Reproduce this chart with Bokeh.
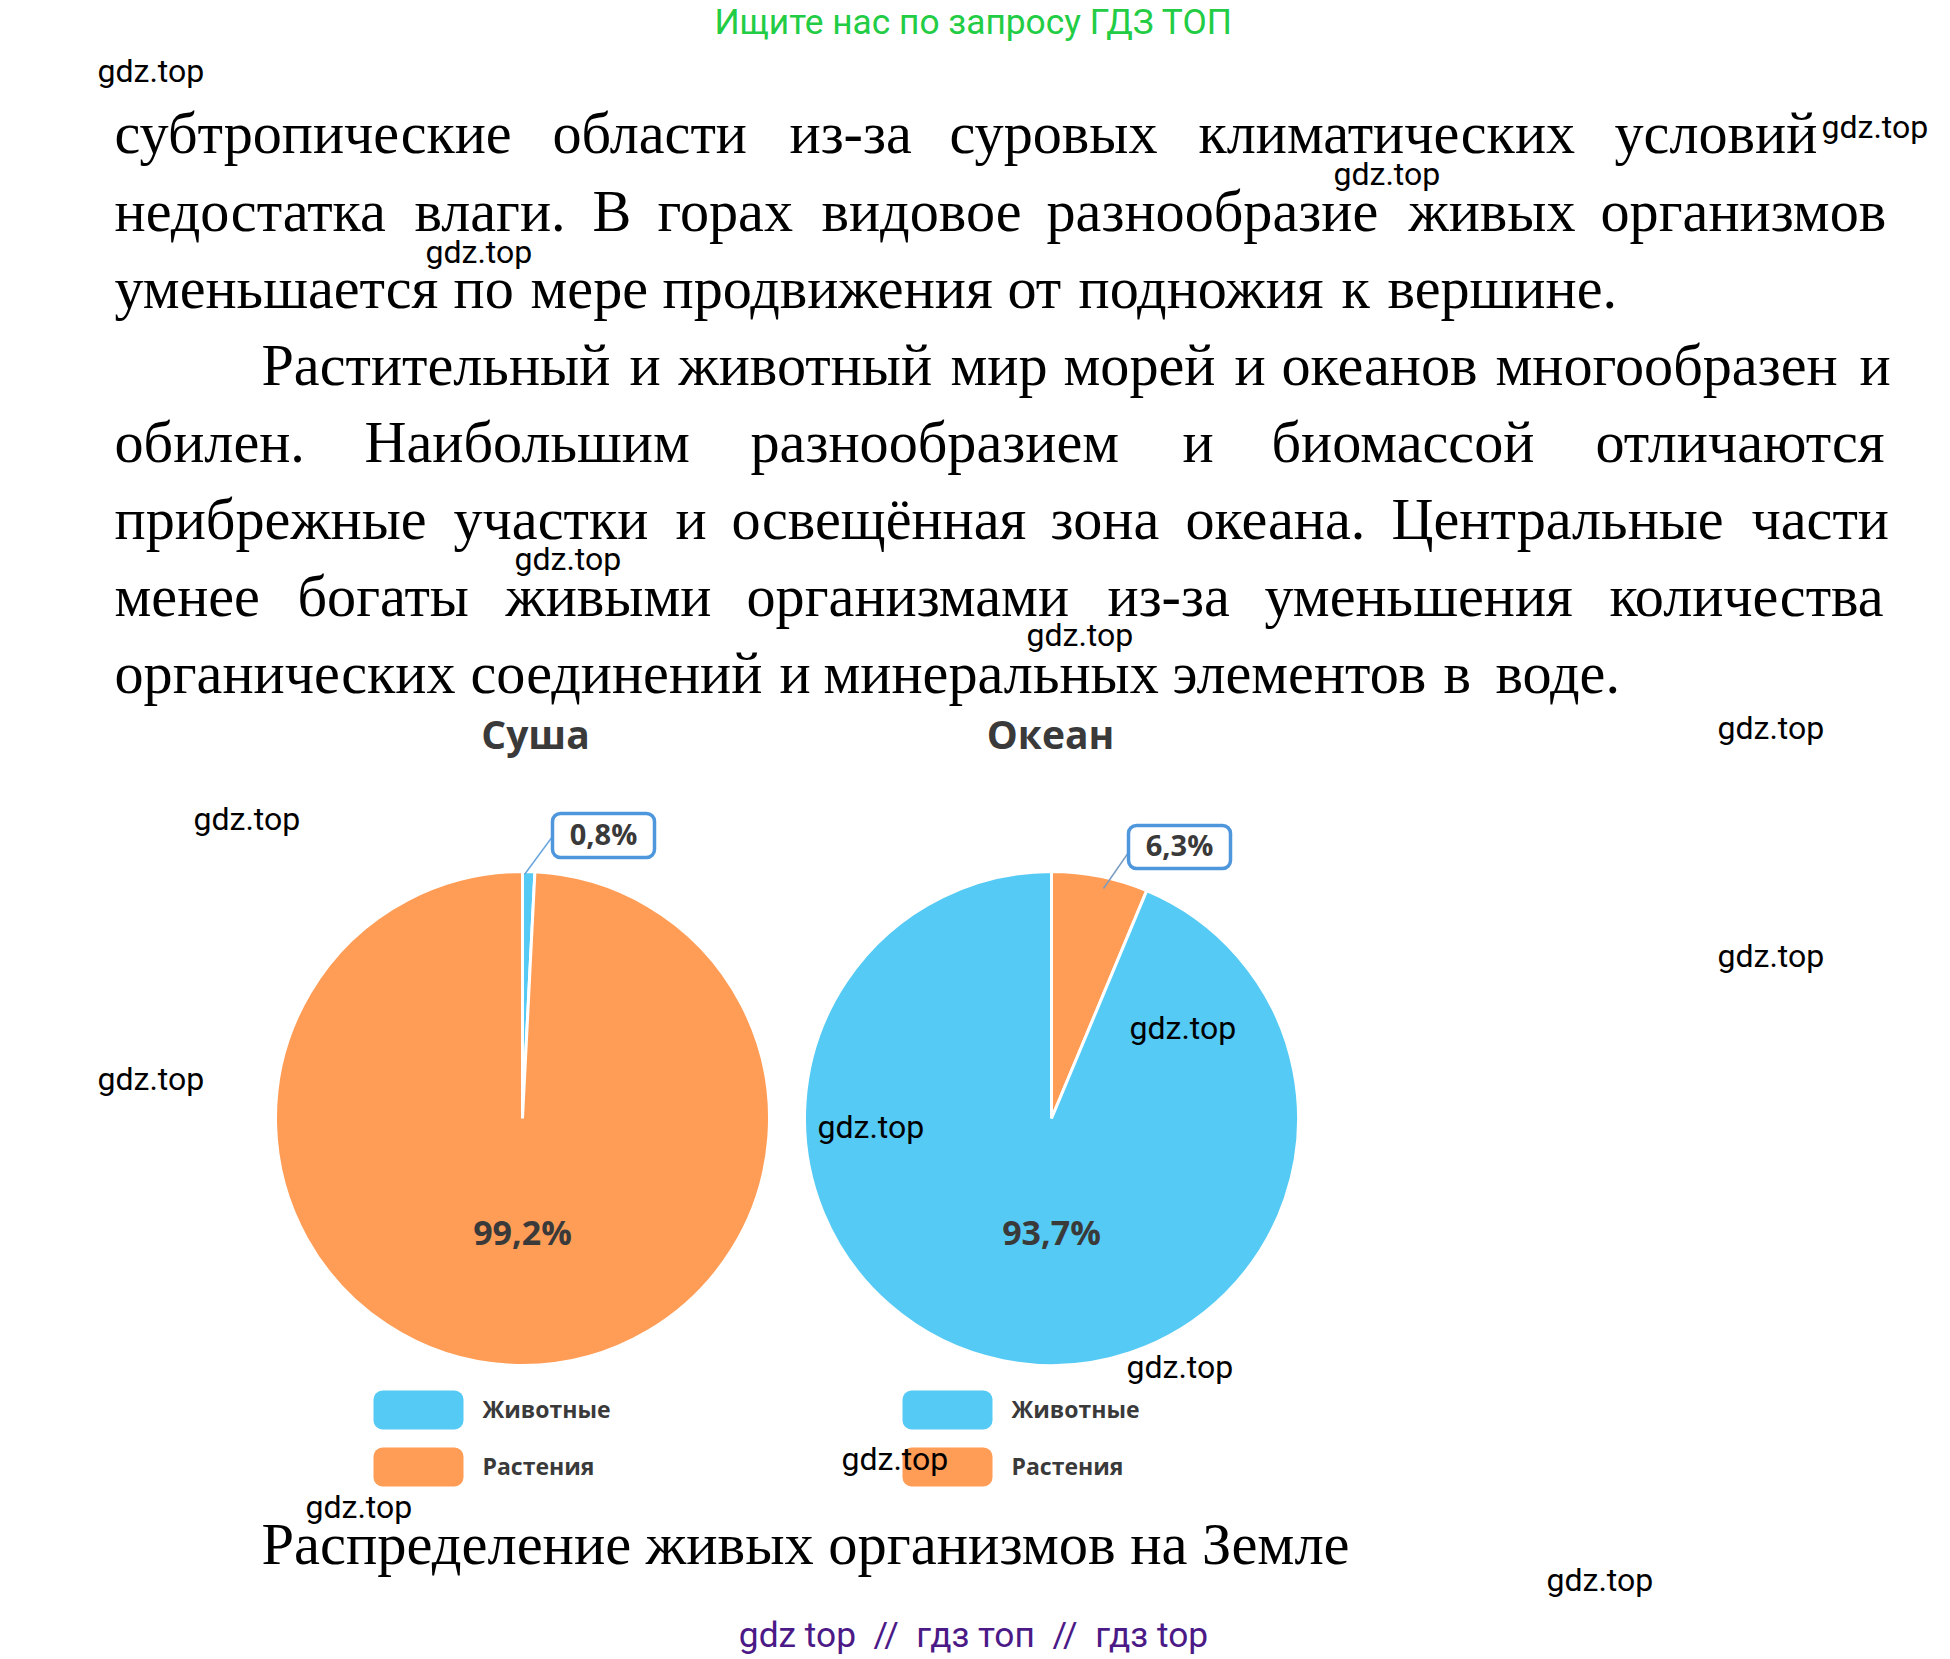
from bokeh.core.properties import value
from bokeh.embed import file_html
from bokeh.models import ColumnDataSource, Range1d
from bokeh.plotting import figure
from bokeh.resources import INLINE
import math

# pie data
land_labels = ['Животные', 'Растения']
land_values = [0.8, 99.2]
ocean_values = [6.3, 93.7]
land_texts = ['0,8%', '99,2%']
ocean_texts = ['6,3%', '93,7%']
titles = ['Суша', 'Океан']
caption = 'Распределение живых организмов на Земле'
header = 'Ищите нас по запросу ГДЗ ТОП'
footer = 'gdz top\u00a0\u00a0//\u00a0\u00a0гдз топ\u00a0\u00a0//\u00a0\u00a0гдз top'

body_lines = [
    'субтропические области из-за суровых климатических условий',
    'недостатка влаги. В горах видовое разнообразие живых организмов',
    'уменьшается по мере продвижения от подножия к вершине.',
    'Растительный и животный мир морей и океанов многообразен и',
    'обилен. Наибольшим разнообразием и биомассой отличаются',
    'прибрежные участки и освещённая зона океана. Центральные части',
    'менее богаты живыми организмами из-за уменьшения количества',
    'органических соединений и минеральных элементов в воде.',
]

BLUE = '#55caf4'
ORANGE = '#ff9c55'
DARK = '#3a3a3a'
EDGE = '#4f97dc'

# word starts, justified like the page
word_x = [
    [114, 552, 789, 949, 1198, 1614],
    [114, 414, 592, 657, 821, 1046, 1408, 1600],
    [114, 453, 530, 662, 1007, 1078, 1341, 1387],
    [261, 629, 678, 950, 1063, 1234, 1281, 1495, 1859],
    [114, 364, 750, 1182, 1271, 1595],
    [114, 453, 675, 731, 1050, 1185, 1391, 1751],
    [114, 297, 505, 746, 1107, 1264, 1609],
    [114, 470, 779, 823, 1172, 1443, 1495],
]
line_y = [133, 211, 288, 365, 442, 519, 596, 673]

marks = [(97, 70), (1821, 126), (1333, 173), (425, 251), (514, 558), (1026, 634),
         (1717, 727), (193, 818), (1717, 955), (97, 1078), (1129, 1027), (817, 1126),
         (1126, 1366), (841, 1458), (305, 1506), (1546, 1579)]

PAGE_W = 1950
PAGE_H = 1659


def py(y):
    return PAGE_H - y


p = figure(width=PAGE_W, height=PAGE_H, output_backend="svg", toolbar_location=None,
           x_range=Range1d(0, PAGE_W), y_range=Range1d(0, PAGE_H), min_border=0)
p.axis.visible = False
p.grid.visible = False
p.outline_line_color = None
p.background_fill_color = 'white'


def pie(cx, cy, r, values, colors):
    total = sum(values)
    ends = []
    run = 0
    for v in values:
        run += v
        ends.append(run)
    start = [math.pi / 2 - 2 * math.pi * (e - v) / total for e, v in zip(ends, values)]
    end = [math.pi / 2 - 2 * math.pi * e / total for e in ends]
    src = ColumnDataSource(dict(start=start, end=end, color=colors))
    p.wedge(x=cx, y=py(cy), radius=r, start_angle='start', end_angle='end', direction='clock',
            fill_color='color', line_color='white', line_width=3, source=src)


pie(522, 1118, 247, land_values, [BLUE, ORANGE])
pie(1051, 1118, 247, ocean_values, [ORANGE, BLUE])


def txt(x, y, s, font, size, color='black', style='normal', align='left'):
    p.text(x=[x], y=[py(y)], text=[s], text_font=value(font), text_font_size=size, text_color=color,
           text_font_style=style, text_align=align, text_baseline='alphabetic')


# callouts
p.line([552, 524], [py(836), py(874)], line_color='#6aa5dd', line_width=1.5)
p.line([1128, 1103], [py(852), py(888)], line_color='#7a9cc0', line_width=1.5)
for l, r, t, b in [(552, 654, 813, 857), (1128, 1230, 825, 868)]:
    p.quad(left=l, right=r, top=py(t), bottom=py(b), fill_color='white', line_color=EDGE,
           line_width=3.5, border_radius=8)

txt(603, 833, land_texts[0], 'Open Sans', '29px', DARK, 'bold', 'center')
txt(1179, 844, ocean_texts[0], 'Open Sans', '29px', DARK, 'bold', 'center')
txt(522, 1231, land_texts[1], 'Open Sans', '34px', DARK, 'bold', 'center')
txt(1051, 1231, ocean_texts[1], 'Open Sans', '34px', DARK, 'bold', 'center')
txt(535, 733, titles[0], 'Open Sans', '39px', DARK, 'bold', 'center')
txt(1050, 733, titles[1], 'Open Sans', '39px', DARK, 'bold', 'center')

# legends
for x0 in (373, 902):
    for (t, b), col, name in [((1390, 1429), BLUE, land_labels[0]), ((1447, 1486), ORANGE, land_labels[1])]:
        p.quad(left=x0, right=x0 + 90, top=py(t), bottom=py(b), fill_color=col, line_color=None,
               border_radius=9)
        txt(x0 + 109, t + 18, name, 'Open Sans', '23px', DARK, 'bold')

# body
words, xs, ys = [], [], []
for line, starts, y in zip(body_lines, word_x, line_y):
    for w, x in zip(line.split(), starts):
        words.append(w)
        xs.append(x)
        ys.append(py(y))
p.text(x=xs, y=ys, text=words, text_font=value('Liberation Serif'), text_font_size='58.2px',
       text_color='black', text_baseline='alphabetic')

txt(261, 1544, caption, 'Liberation Serif', '58.5px')
txt(973, 21, header, 'Roboto', '35.3px', '#22cc44', 'normal', 'center')
txt(973, 1634, footer, 'Roboto', '35.3px', '#4b1a87', 'normal', 'center')

# watermarks
p.text(x=[m[0] for m in marks], y=[py(m[1]) for m in marks], text=['gdz.top'] * len(marks),
       text_font=value('Roboto'), text_font_size='32px', text_color='black', text_baseline='alphabetic')

open("out.html", "w").write(file_html(p, INLINE))
